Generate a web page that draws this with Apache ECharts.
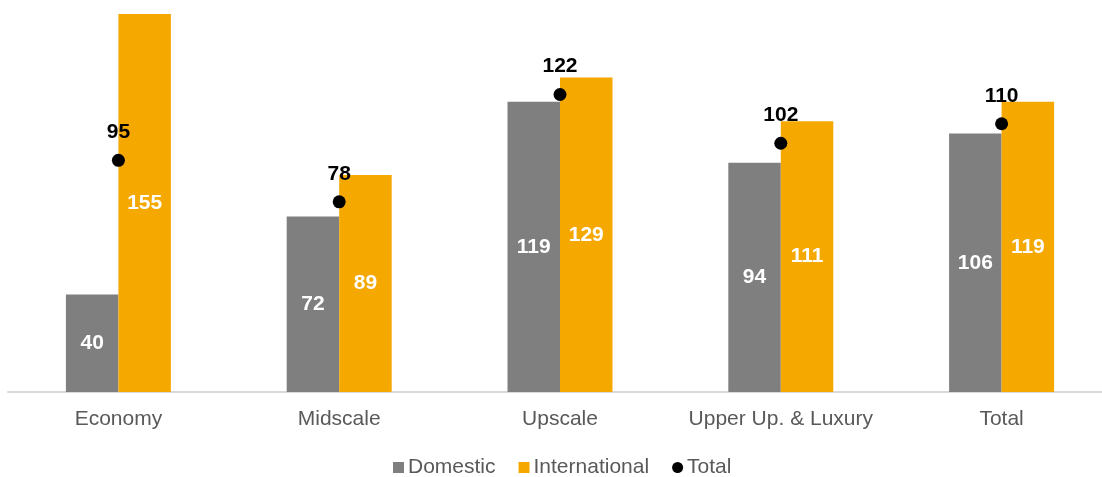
<!DOCTYPE html>
<html>
<head>
<meta charset="utf-8">
<script src="https://cdn.jsdelivr.net/npm/echarts@6/dist/echarts.min.js"></script>
<style>
  html, body { margin: 0; padding: 0; background: #ffffff; }
  #chart { width: 1102px; height: 477px; }
</style>
</head>
<body>
<div id="chart"></div>
<script>
// Hotel segments and their index values
const categories = ['Economy', 'Midscale', 'Upscale', 'Upper Up. & Luxury', 'Total'];
const domestic = [40, 72, 119, 94, 106];
const international = [155, 89, 129, 111, 119];
const total = [95, 78, 122, 102, 110];

const FONT = '"Liberation Sans", Arial, sans-serif';
const GREY = '#7f7f7f';
const ORANGE = '#f4a800';

const chart = echarts.init(document.getElementById('chart'), null, { renderer: 'canvas' });

const barLabel = {
  show: true,
  position: 'inside',
  color: '#ffffff',
  fontFamily: FONT,
  fontWeight: 'bold',
  fontSize: 21
};

chart.setOption({
  animation: false,
  backgroundColor: '#ffffff',
  grid: { left: 8, top: 14, right: -10, height: 378, containLabel: false, outerBoundsMode: 'none' },
  legend: {
    left: 393,
    top: 457,
    padding: 0,
    itemWidth: 11,
    itemHeight: 11,
    itemGap: 23,
    textStyle: { fontFamily: FONT, fontSize: 21, color: '#595959', padding: [0, 0, 0, -1] },
    data: [
      { name: 'Domestic', icon: 'rect' },
      { name: 'International', icon: 'rect' },
      { name: 'Total', icon: 'circle' }
    ]
  },
  xAxis: {
    type: 'category',
    data: categories,
    axisLine: { show: true, lineStyle: { color: '#d9d9d9', width: 2 } },
    axisTick: { show: false },
    axisLabel: { color: '#595959', fontFamily: FONT, fontSize: 21, margin: 17, interval: 0 }
  },
  yAxis: {
    type: 'value',
    min: 0,
    max: 155,
    show: false,
    splitLine: { show: false }
  },
  series: [
    {
      name: 'Domestic',
      type: 'bar',
      data: domestic,
      barWidth: 52.5,
      barGap: '0%',
      itemStyle: { color: GREY },
      label: barLabel
    },
    {
      name: 'International',
      type: 'bar',
      data: international,
      barWidth: 52.5,
      barGap: '0%',
      itemStyle: { color: ORANGE },
      label: barLabel
    },
    {
      name: 'Total',
      type: 'scatter',
      data: total,
      symbol: 'circle',
      symbolSize: 13,
      itemStyle: { color: '#000000', opacity: 1 },
      z: 5,
      label: {
        show: true,
        position: 'top',
        distance: 11,
        color: '#000000',
        fontFamily: FONT,
        fontWeight: 'bold',
        fontSize: 21
      }
    }
  ]
});
</script>
</body>
</html>
